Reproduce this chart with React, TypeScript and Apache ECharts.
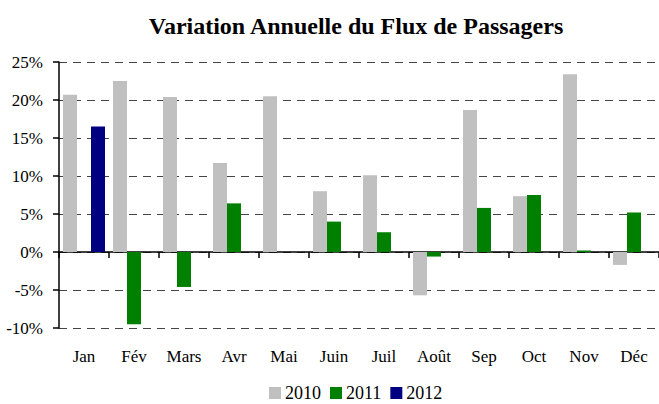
import React, { useEffect, useRef } from "react";
import * as echarts from "echarts";

const categories = ["Jan", "Fév", "Mars", "Avr", "Mai", "Juin", "Juil", "Août", "Sep", "Oct", "Nov", "Déc"];
const values2010 = [20.7, 22.5, 20.4, 11.7, 20.5, 8.0, 10.1, -5.7, 18.7, 7.35, 23.4, -1.7];
const values2011 = [null, -9.5, -4.6, 6.4, null, 4.0, 2.6, -0.6, 5.8, 7.5, 0.2, 5.2];
const values2012 = [16.5, null, null, null, null, null, null, null, null, null, null, null];
const seriesNames = ["2010", "2011", "2012"];
const seriesColors = ["#c0c0c0", "#008000", "#000080"];

const FONT = "Liberation Serif";

export default function App() {
  const ref = useRef<HTMLDivElement>(null);
  useEffect(() => {
    if (!ref.current) return;
    const chart = echarts.init(ref.current, undefined, { renderer: "svg" });
    const data = [values2010, values2011, values2012];
    chart.setOption({
      animation: false,
      backgroundColor: "#ffffff",
      title: {
        text: "Variation Annuelle du Flux de Passagers",
        left: 351,
        textAlign: "center",
        top: 9,
        textStyle: { fontFamily: FONT, fontSize: 24, fontWeight: "bold", color: "#000" },
      },
      legend: {
        top: 379,
        left: 264,
        itemWidth: 12,
        itemHeight: 12,
        itemGap: 9,
        icon: "rect",
        textStyle: { fontFamily: FONT, fontSize: 18, color: "#000", padding: [0, 0, 0, -1] },
        data: seriesNames,
      },
      grid: { left: 59, right: -3, top: 62, bottom: 76 },
      xAxis: [
        {
          type: "category",
          data: categories,
          axisLine: { onZero: true, lineStyle: { color: "#000", width: 1.5 } },
          axisTick: { show: true, length: 6, inside: false, lineStyle: { color: "#000", width: 1.5 } },
          axisLabel: { show: false },
          splitLine: { show: false },
        },
        {
          type: "category",
          data: categories,
          position: "bottom",
          axisLine: { show: false, onZero: false },
          axisTick: { show: false },
          axisLabel: { fontFamily: FONT, fontSize: 17, color: "#000", margin: 20 },
        },
      ],
      yAxis: {
        type: "value",
        min: -10,
        max: 25,
        interval: 5,
        axisLine: { show: true, lineStyle: { color: "#000", width: 1.5 } },
        axisTick: { show: true, length: 6, lineStyle: { color: "#000", width: 1.5 } },
        axisLabel: {
          fontFamily: FONT,
          fontSize: 17,
          color: "#000",
          margin: 16,
          formatter: (v: number) => `${v}%`,
        },
        splitLine: { show: true, lineStyle: { color: "#444", type: [8, 6], width: 1 } },
      },
      series: seriesNames.map((name, i) => ({
        name,
        type: "bar",
        xAxisIndex: 0,
        data: data[i],
        barGap: "0%",
        barCategoryGap: "16%",
        itemStyle: { color: seriesColors[i] },
      })),
    });
    return () => chart.dispose();
  }, []);
  return <div ref={ref} style={{ position: "fixed", left: 0, top: 0, width: 659, height: 404 }} />;
}
